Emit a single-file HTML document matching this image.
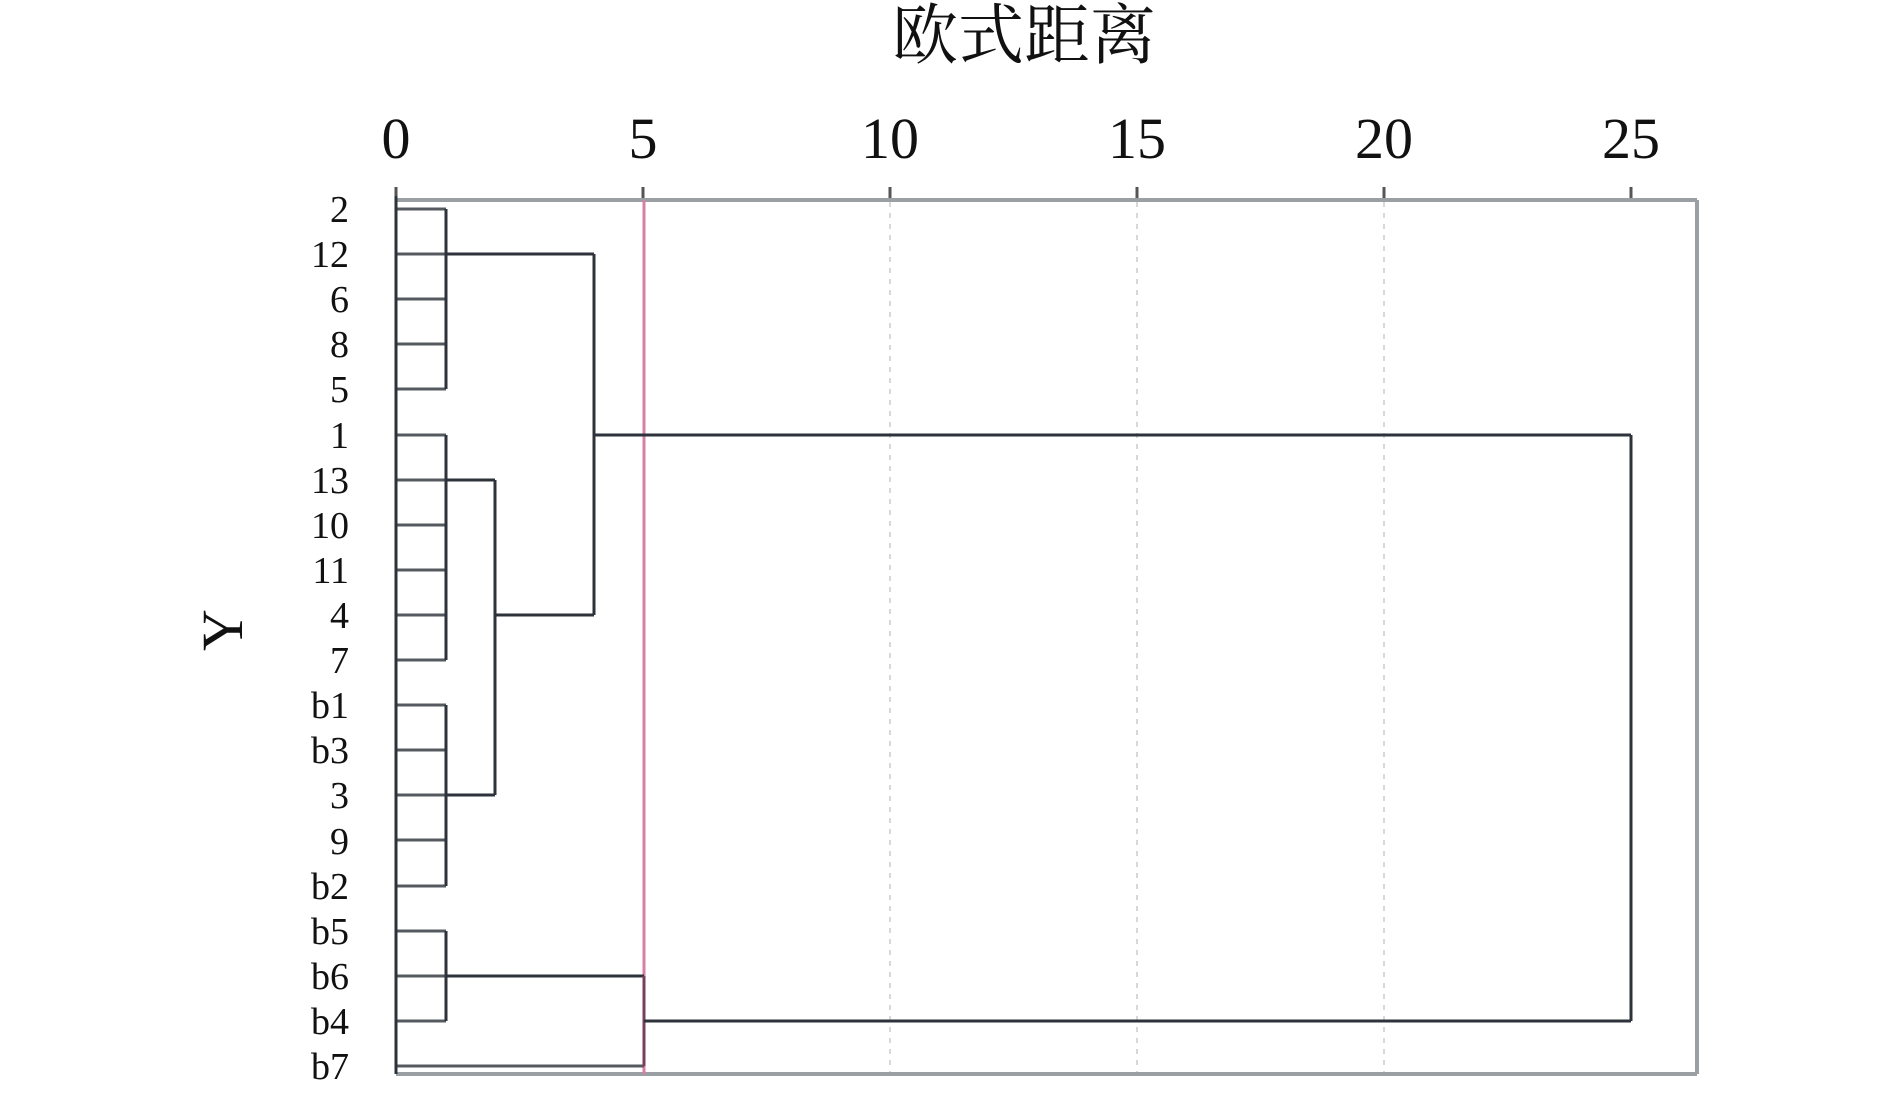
<!DOCTYPE html>
<html><head><meta charset="utf-8"><style>
html,body{margin:0;padding:0;background:#fff;}
svg{display:block;}
text{font-family:"Liberation Serif","Noto Serif CJK SC",serif;fill:#111;}
</style></head><body>
<svg width="1890" height="1095" viewBox="0 0 1890 1095" xmlns="http://www.w3.org/2000/svg">
<text x="1024" y="58" font-size="66" text-anchor="middle" font-family="Noto Serif CJK SC, serif">欧式距离</text>
<g font-size="58" text-anchor="middle">
<text x="396" y="158">0</text>
<text x="643" y="158">5</text>
<text x="890" y="158">10</text>
<text x="1137" y="158">15</text>
<text x="1384" y="158">20</text>
<text x="1631" y="158">25</text>
</g>
<text transform="translate(242,630) rotate(-90)" font-size="58" text-anchor="middle">Y</text>
<g font-size="38" text-anchor="end">
<text x="349" y="222">2</text>
<text x="349" y="267">12</text>
<text x="349" y="312">6</text>
<text x="349" y="357">8</text>
<text x="349" y="402">5</text>
<text x="349" y="448">1</text>
<text x="349" y="493">13</text>
<text x="349" y="538">10</text>
<text x="349" y="583">11</text>
<text x="349" y="628">4</text>
<text x="349" y="673">7</text>
<text x="349" y="718">b1</text>
<text x="349" y="763">b3</text>
<text x="349" y="808">3</text>
<text x="349" y="854">9</text>
<text x="349" y="899">b2</text>
<text x="349" y="944">b5</text>
<text x="349" y="989">b6</text>
<text x="349" y="1034">b4</text>
<text x="349" y="1079">b7</text>
</g>
<g stroke="#ccc" stroke-width="1.5" stroke-dasharray="5,6">
<line x1="890" y1="202" x2="890" y2="1072"/>
<line x1="1137" y1="202" x2="1137" y2="1072"/>
<line x1="1384" y1="202" x2="1384" y2="1072"/>
</g>
<g stroke="#555" stroke-width="3">
<line x1="396" y1="187" x2="396" y2="200"/>
<line x1="643" y1="187" x2="643" y2="200"/>
<line x1="890" y1="187" x2="890" y2="200"/>
<line x1="1137" y1="187" x2="1137" y2="200"/>
<line x1="1384" y1="187" x2="1384" y2="200"/>
<line x1="1631" y1="187" x2="1631" y2="200"/>
</g>
<g stroke="#9a9fa3" stroke-width="4" fill="none">
<line x1="396" y1="200" x2="1697" y2="200"/>
<line x1="1697" y1="200" x2="1697" y2="1074"/>
<line x1="396" y1="1074" x2="1697" y2="1074"/>
</g>
<line x1="644" y1="200" x2="644" y2="1074" stroke="#d77fa6" stroke-width="3"/>
<g stroke="#555a60" stroke-width="3" fill="none">
<line x1="396" y1="209" x2="446" y2="209"/>
<line x1="396" y1="254" x2="446" y2="254"/>
<line x1="396" y1="299" x2="446" y2="299"/>
<line x1="396" y1="344" x2="446" y2="344"/>
<line x1="396" y1="389" x2="446" y2="389"/>
<line x1="396" y1="435" x2="446" y2="435"/>
<line x1="396" y1="480" x2="446" y2="480"/>
<line x1="396" y1="525" x2="446" y2="525"/>
<line x1="396" y1="570" x2="446" y2="570"/>
<line x1="396" y1="615" x2="446" y2="615"/>
<line x1="396" y1="660" x2="446" y2="660"/>
<line x1="396" y1="705" x2="446" y2="705"/>
<line x1="396" y1="750" x2="446" y2="750"/>
<line x1="396" y1="795" x2="446" y2="795"/>
<line x1="396" y1="840" x2="446" y2="840"/>
<line x1="396" y1="886" x2="446" y2="886"/>
<line x1="396" y1="931" x2="446" y2="931"/>
<line x1="396" y1="976" x2="446" y2="976"/>
<line x1="396" y1="1021" x2="446" y2="1021"/>
<line x1="396" y1="1066" x2="644" y2="1066"/>
</g>
<g stroke="#2e323a" stroke-width="3" fill="none">
<line x1="396" y1="196" x2="396" y2="1074"/>
<line x1="446" y1="209" x2="446" y2="389"/>
<line x1="446" y1="435" x2="446" y2="660"/>
<line x1="446" y1="705" x2="446" y2="886"/>
<line x1="446" y1="931" x2="446" y2="1021"/>
<line x1="446" y1="254" x2="594" y2="254"/>
<line x1="594" y1="254" x2="594" y2="615"/>
<line x1="446" y1="480" x2="495" y2="480"/>
<line x1="446" y1="795" x2="495" y2="795"/>
<line x1="495" y1="480" x2="495" y2="795"/>
<line x1="495" y1="615" x2="594" y2="615"/>
<line x1="594" y1="435" x2="1631" y2="435"/>
<line x1="446" y1="976" x2="644" y2="976"/>
<line x1="644" y1="976" x2="644" y2="1066" stroke="#7a3f5e"/>
<line x1="644" y1="1021" x2="1631" y2="1021"/>
<line x1="1631" y1="435" x2="1631" y2="1021"/>
</g>
</svg>
</body></html>
